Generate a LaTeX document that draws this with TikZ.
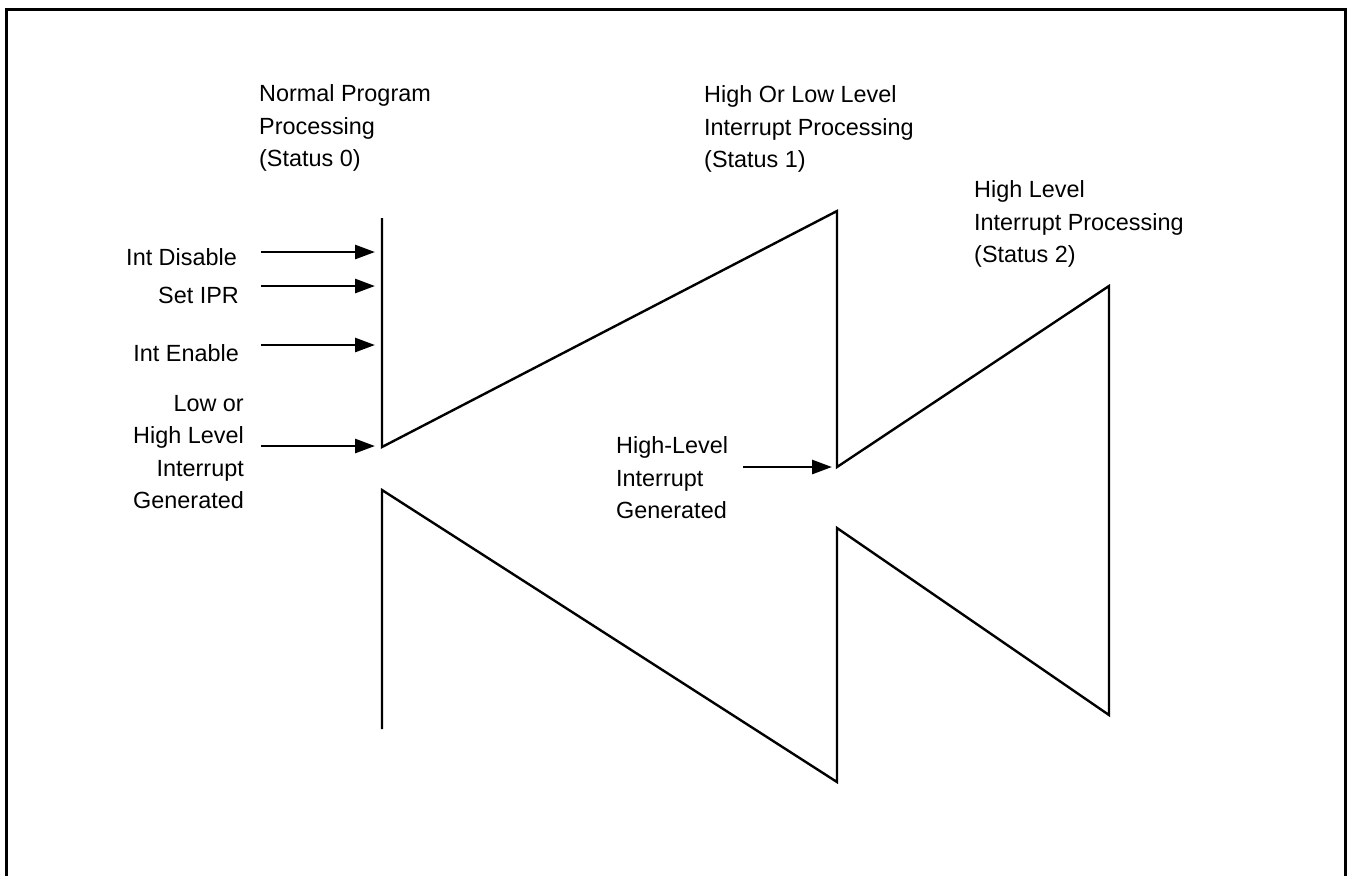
\documentclass[tikz,border=0pt]{standalone}
\usepackage{fontspec}
\setmainfont{Liberation Sans}
\usetikzlibrary{arrows.meta}

\begin{document}
\begin{tikzpicture}[x=0.5pt, y=-0.5pt, line width=1.2pt, font=\fontsize{11.7}{16.25}\selectfont,
	lbl/.style={inner sep=0pt},
	sig/.style={line width=1.4pt, -{Triangle[length=10pt,width=7pt]}}]
	\useasboundingbox (0,0) rectangle (1348,875);
	\draw[line width=1.5pt] (6,900) -- (6,9) -- (1345,9) -- (1345,900);
	
	% status labels
	\node[lbl, align=left, anchor=west] (s0) at (258,128) {Normal Program\\Processing\\(Status 0)};
	\node[lbl, align=left, anchor=west] (s1) at (703,129) {High Or Low Level\\Interrupt Processing\\(Status 1)};
	\node[lbl, align=left, anchor=west] (s2) at (973,224) {High Level\\Interrupt Processing\\(Status 2)};
	
	% zigzag
	\coordinate (a0) at (382,218);
	\coordinate (a1) at (382,447);
	\coordinate (b0) at (837,211);
	\coordinate (b1) at (837,467);
	\coordinate (c0) at (1109,286);
	\coordinate (c1) at (1109,715);
	\coordinate (b2) at (837,528);
	\coordinate (b3) at (837,782);
	\coordinate (a2) at (382,490);
	\coordinate (a3) at (382,729);
	\draw[line join=miter] (a0) -- (a1) -- (b0) -- (b1) -- (c0) -- (c1) -- (b2) -- (b3) -- (a2) -- (a3);
	
	% inputs
	\node[lbl, anchor=east] (dis) at (238,257) {Int Disable};
	\node[lbl, anchor=east] (ipr) at (240,295) {Set IPR};
	\node[lbl, anchor=east] (ena) at (240,353) {Int Enable};
	\node[lbl, align=right, anchor=east] (low) at (245,452) {Low or\\High Level\\Interrupt\\Generated};
	\node[lbl, align=left, anchor=west] (high) at (615,478) {High-Level\\Interrupt\\Generated};
	
	\coordinate (dis0) at (261,252);
	\coordinate (dis1) at (375,252);
	\coordinate (ipr0) at (261,286);
	\coordinate (ipr1) at (375,286);
	\coordinate (ena0) at (261,345);
	\coordinate (ena1) at (375,345);
	\coordinate (low0) at (261,446);
	\coordinate (low1) at (375,446);
	\coordinate (high0) at (743,467);
	\coordinate (high1) at (832,467);
	
	\draw[sig] (dis0) to (dis1);
	\draw[sig] (ipr0) to (ipr1);
	\draw[sig] (ena0) to (ena1);
	\draw[sig] (low0) to (low1);
	\draw[sig] (high0) to (high1);
\end{tikzpicture}
\end{document}
